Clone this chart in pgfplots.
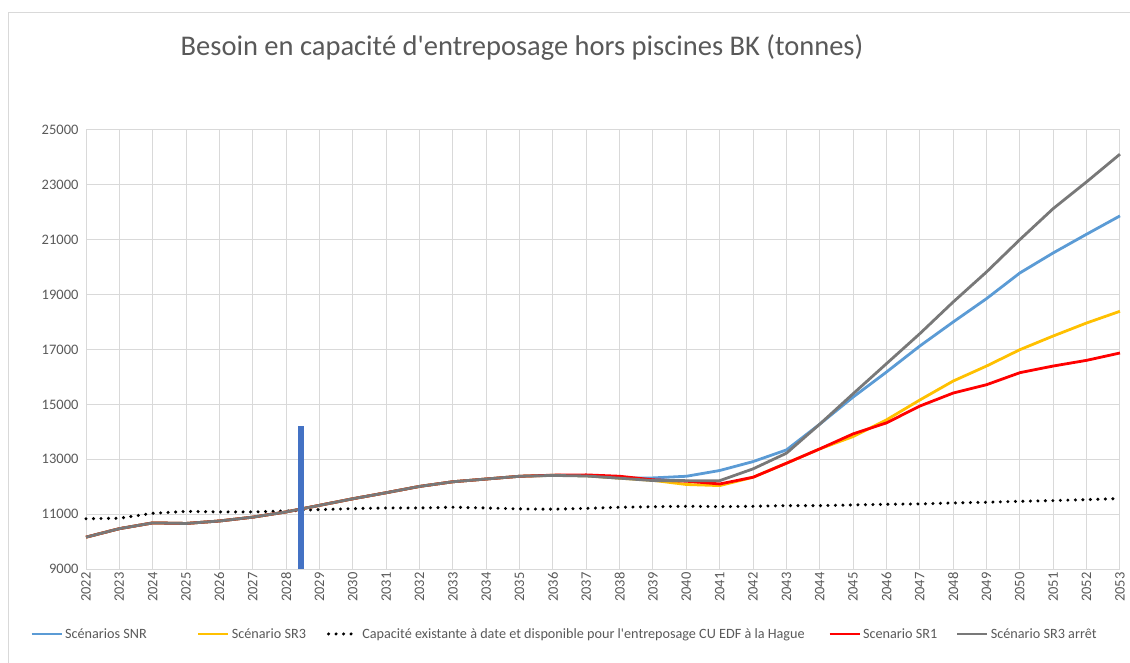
\documentclass[border=0pt]{standalone}
\usepackage{fontspec}
\setmainfont{Carlito}
\usepackage{pgfplots}
\pgfplotsset{compat=1.18}
\definecolor{cblue}{RGB}{91,155,213}
\definecolor{cyellow}{RGB}{255,192,0}
\definecolor{cred}{RGB}{255,0,0}
\definecolor{cgray}{RGB}{120,120,120}
\definecolor{cbar}{RGB}{68,114,196}
\definecolor{gridc}{RGB}{217,217,217}
\definecolor{txtc}{RGB}{89,89,89}

\pgfplotstableread{
year blue yellow red gray cap
2022 10160 10160 10160 10160 10830
2023 10470 10470 10470 10470 10850
2024 10680 10680 10680 10680 11030
2025 10660 10660 10660 10660 11100
2026 10750 10750 10750 10750 11080
2027 10890 10890 10890 10890 11080
2028 11080 11080 11080 11080 11115
2029 11320 11320 11320 11320 11165
2030 11560 11560 11560 11560 11200
2031 11780 11780 11780 11780 11225
2032 12010 12010 12010 12010 11225
2033 12180 12180 12180 12180 11250
2034 12280 12280 12280 12280 11225
2035 12380 12380 12380 12380 11190
2036 12415 12415 12420 12410 11180
2037 12400 12400 12430 12390 11210
2038 12310 12310 12380 12310 11250
2039 12320 12230 12250 12222 11270
2040 12380 12080 12200 12220 11286
2041 12590 12040 12100 12220 11274
2042 12915 12344 12344 12650 11286
2043 13340 12855 12855 13220 11310
2044 14280 13378 13378 14280 11310
2045 15268 13828 13925 15389 11335
2046 16180 14436 14326 16484 11359
2047 17128 15160 14939 17578 11371
2048 18004 15851 15413 18733 11408
2049 18855 16398 15717 19828 11432
2050 19791 16994 16155 21007 11468
2051 20521 17493 16398 22138 11493
2052 21202 17967 16605 23111 11530
2053 21870 18393 16873 24120 11566
}\datatable

\begin{document}
\begin{tikzpicture}[x=1pt,y=1pt]
\useasboundingbox (0,0) rectangle (1130,662);
\begin{scope}
\clip (0,0) rectangle (1130,662);
\draw[gridc, line width=1pt] (8,-5) -- (8,649) -- (1140,649);
\end{scope}
\node[text=txtc, font=\fontsize{28.5}{34}\selectfont] at (522,614) {Besoin en capacité d\textquotesingle entreposage hors piscines BK (tonnes)};
\begin{axis}[
  at={(86pt,93pt)}, anchor=south west, scale only axis,
  width=1034pt, height=439pt,
  xmin=2022, xmax=2053, ymin=9000, ymax=25000,
  xtick={2022,...,2053}, ytick={9000,11000,...,25000},
  scaled y ticks=false,
  grid=major, grid style={gridc, line width=1pt},
  axis line style={gridc, line width=1pt},
  major tick length=0pt,
  /pgf/number format/assume math mode=true,
  /pgf/number format/1000 sep={},
  xticklabel style={rotate=90, anchor=east, font=\fontsize{14.5}{14.5}\selectfont, text=txtc},
  yticklabel style={font=\fontsize{14.5}{14.5}\selectfont, text=txtc, xshift=-4pt},
  clip=false,
  legend columns=5,
  legend cell align=left,
  legend style={at={(-0.057,-0.148)}, anchor=west, draw=none, fill=none,
    font=\fontsize{14.2}{16}\selectfont, text=txtc, column sep=0pt},
  legend image code/.code={\draw[#1] (0pt,0pt) -- (30pt,0pt);},
]
\addplot[cblue, line width=2.8pt, line join=round] table[x=year,y=blue] {\datatable};
\addlegendentry{\makebox[130pt][l]{Scénarios SNR}}
\addplot[cyellow, line width=2.8pt, line join=round] table[x=year,y=yellow] {\datatable};
\addlegendentry{\makebox[93pt][l]{Scénario SR3}}
\addplot[black, line width=3.4pt, line cap=round, dash pattern=on 0pt off 7.5pt] table[x=year,y=cap] {\datatable};
\addlegendentry{\makebox[464pt][l]{Capacité existante à date et disponible pour l\textquotesingle entreposage CU EDF à la Hague}}
\addplot[cred, line width=2.8pt, line join=round] table[x=year,y=red] {\datatable};
\addlegendentry{\makebox[91pt][l]{Scenario SR1}}
\addplot[cgray, line width=2.8pt, line join=round] table[x=year,y=gray] {\datatable};
\addlegendentry{Scénario SR3 arrêt}
\addplot[cbar, line width=6pt, forget plot] coordinates {(2028.45,9000) (2028.45,14200)};
\end{axis}
\end{tikzpicture}
\end{document}
